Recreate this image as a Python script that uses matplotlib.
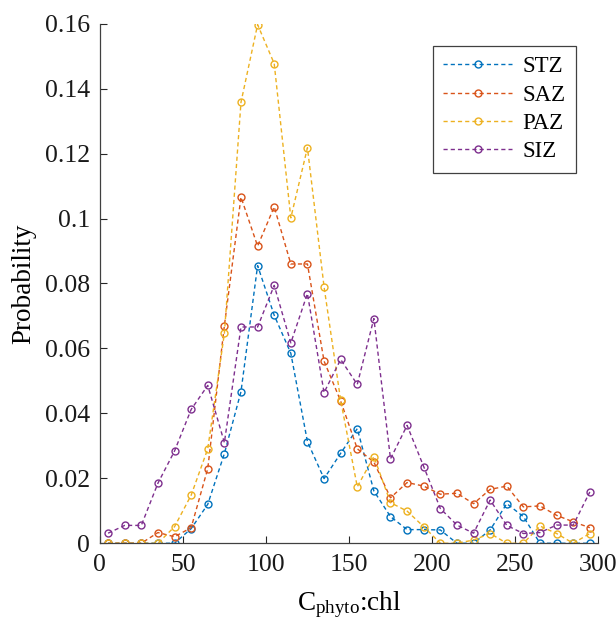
import matplotlib

matplotlib.use("Agg")
import matplotlib.pyplot as plt

plt.rcParams["font.family"] = ["Liberation Serif", "DejaVu Serif"]
plt.rcParams["mathtext.fontset"] = "custom"
plt.rcParams["mathtext.rm"] = "Liberation Serif"
plt.rcParams["mathtext.it"] = "Liberation Serif:italic"

# bin centres of C_phyto:chl
bins = [5, 15, 25, 35, 45, 55, 65, 75, 85, 95, 105, 115, 125, 135, 145,
        155, 165, 175, 185, 195, 205, 215, 225, 235, 245, 255, 265, 275, 285, 295]

stz = [0, 0, 0, 0, 0, 0.0045, 0.012, 0.0276, 0.0467, 0.0855, 0.0702, 0.0585,
       0.0313, 0.0199, 0.0277, 0.0353, 0.0161, 0.0082, 0.0042, 0.0042, 0.0041,
       0, 0, 0.0041, 0.0122, 0.0082, 0, 0, 0, 0]
saz = [0, 0, 0, 0.0033, 0.002, 0.0048, 0.023, 0.067, 0.1066, 0.0915, 0.1036,
       0.086, 0.086, 0.0561, 0.0438, 0.0291, 0.025, 0.014, 0.0187, 0.0176,
       0.0151, 0.0154, 0.0122, 0.0166, 0.0176, 0.0112, 0.0115, 0.0086, 0.0066, 0.0048]
paz = [0, 0, 0, 0, 0.0051, 0.0148, 0.0291, 0.0646, 0.1358, 0.1597, 0.1477,
       0.1002, 0.1218, 0.079, 0.044, 0.0174, 0.0267, 0.0125, 0.0099, 0.0051,
       0, 0, 0.001, 0.003, 0, 0, 0.0053, 0.003, 0, 0.003]
siz = [0.0031, 0.0055, 0.0055, 0.0185, 0.0284, 0.0412, 0.0486, 0.031, 0.0666,
       0.0666, 0.0794, 0.0617, 0.0769, 0.0464, 0.0566, 0.0489, 0.0692, 0.026,
       0.0363, 0.0236, 0.0107, 0.0056, 0.0031, 0.0133, 0.0055, 0.003, 0.0033,
       0.0056, 0.0056, 0.0158]

series = [("STZ", stz, "#0072BD"), ("SAZ", saz, "#D95319"),
          ("PAZ", paz, "#EDB120"), ("SIZ", siz, "#7E2F8E")]

xticks = [0, 50, 100, 150, 200, 250, 300]
yticks = [0, 0.02, 0.04, 0.06, 0.08, 0.1, 0.12, 0.14, 0.16]
ytick_labels = ["0", "0.02", "0.04", "0.06", "0.08", "0.1", "0.12", "0.14", "0.16"]

fig = plt.figure(figsize=(6.16, 6.23), dpi=100)
ax = fig.add_axes([0.162, 0.128, 0.809, 0.834])

for name, values, color in series:
    ax.plot(bins, values, linestyle="--", color=color, linewidth=1.0,
            marker="o", markersize=5, markerfacecolor="none",
            markeredgewidth=1.0, dashes=(3, 2.2), label=name)

ax.set_xlim(0, 300)
ax.set_ylim(0, 0.16)
ax.set_xticks(xticks)
ax.set_yticks(yticks)
ax.set_yticklabels(ytick_labels)
ax.tick_params(direction="in", labelsize=18.5, colors="#262626", length=5,
               width=0.8, labelcolor="#1a1a1a")
ax.tick_params(axis="y", pad=7)
ax.tick_params(axis="x", pad=8)
for side in ("top", "right"):
    ax.spines[side].set_visible(False)
for side in ("left", "bottom"):
    ax.spines[side].set_color("#404040")
    ax.spines[side].set_linewidth(0.9)

ax.set_xlabel(r"C$_{\mathrm{phyto}}$:chl", fontsize=19.5, labelpad=9)
ax.set_ylabel("Probability", fontsize=19.5, labelpad=6)

leg = ax.legend(loc="upper right", bbox_to_anchor=(0.955, 0.957), fontsize=16.5,
                fancybox=False, framealpha=1, edgecolor="#404040",
                handlelength=3.0, handletextpad=0.45, borderpad=0.45,
                labelspacing=0.32, borderaxespad=0)
leg.get_frame().set_linewidth(0.9)

fig.savefig("out.png", dpi=100)
